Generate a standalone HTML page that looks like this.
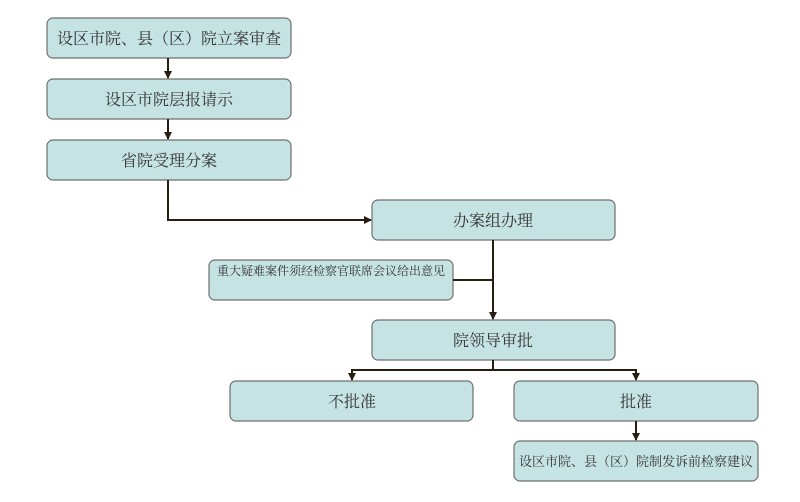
<!DOCTYPE html>
<html><head><meta charset="utf-8"><style>
html,body{margin:0;padding:0;background:#fff;}
svg{display:block;}
text{font-family:"Liberation Serif","Noto Serif CJK SC",serif;fill:#333;text-anchor:middle;}
</style></head><body>
<svg width="800" height="502" viewBox="0 0 800 502">
<defs><marker id="a" markerWidth="8" markerHeight="8" refX="7" refY="4" orient="auto" markerUnits="userSpaceOnUse"><path d="M0,0 L8,4 L0,8 z" fill="#2a1e12"/></marker></defs>
<g fill="#c5e3e3" stroke="#6f6f6f" stroke-width="1.2">
<rect x="47" y="18" width="244" height="40" rx="6"/>
<rect x="47" y="79" width="244" height="40" rx="6"/>
<rect x="47" y="140" width="244" height="40" rx="6"/>
<rect x="372" y="200" width="243" height="40" rx="6"/>
<rect x="209" y="260" width="244" height="40" rx="6"/>
<rect x="372" y="320" width="243" height="40" rx="6"/>
<rect x="230" y="381" width="243" height="40" rx="6"/>
<rect x="514" y="381" width="244" height="40" rx="6"/>
<rect x="514" y="441" width="244" height="40" rx="6"/>
</g>
<g stroke="#2a1e12" stroke-width="2" fill="none">
<line x1="168" y1="58" x2="168" y2="78" marker-end="url(#a)"/>
<line x1="168" y1="119" x2="168" y2="139" marker-end="url(#a)"/>
<polyline points="168,180 168,220 371,220" marker-end="url(#a)"/>
<line x1="493" y1="240" x2="493" y2="319" marker-end="url(#a)"/>
<line x1="453" y1="280" x2="493" y2="280"/>
<line x1="493" y1="360" x2="493" y2="370"/>
<polyline points="352,380 352,370 636,370 636,380"/>
<line x1="352" y1="372" x2="352" y2="380" marker-end="url(#a)"/>
<line x1="636" y1="372" x2="636" y2="380" marker-end="url(#a)"/>
<line x1="636" y1="421" x2="636" y2="440" marker-end="url(#a)"/>
</g>
<text x="169" y="44" font-size="16">设区市院、县（区）院立案审查</text>
<text x="169" y="105" font-size="16">设区市院层报请示</text>
<text x="169" y="166" font-size="16">省院受理分案</text>
<text x="493" y="226" font-size="16">办案组办理</text>
<text x="331" y="275" font-size="12">重大疑难案件须经检察官联席会议给出意见</text>
<text x="493" y="346" font-size="16">院领导审批</text>
<text x="352" y="407" font-size="16">不批准</text>
<text x="636" y="407" font-size="16">批准</text>
<text x="636" y="466" font-size="13">设区市院、县（区）院制发诉前检察建议</text>
</svg>
</body></html>
